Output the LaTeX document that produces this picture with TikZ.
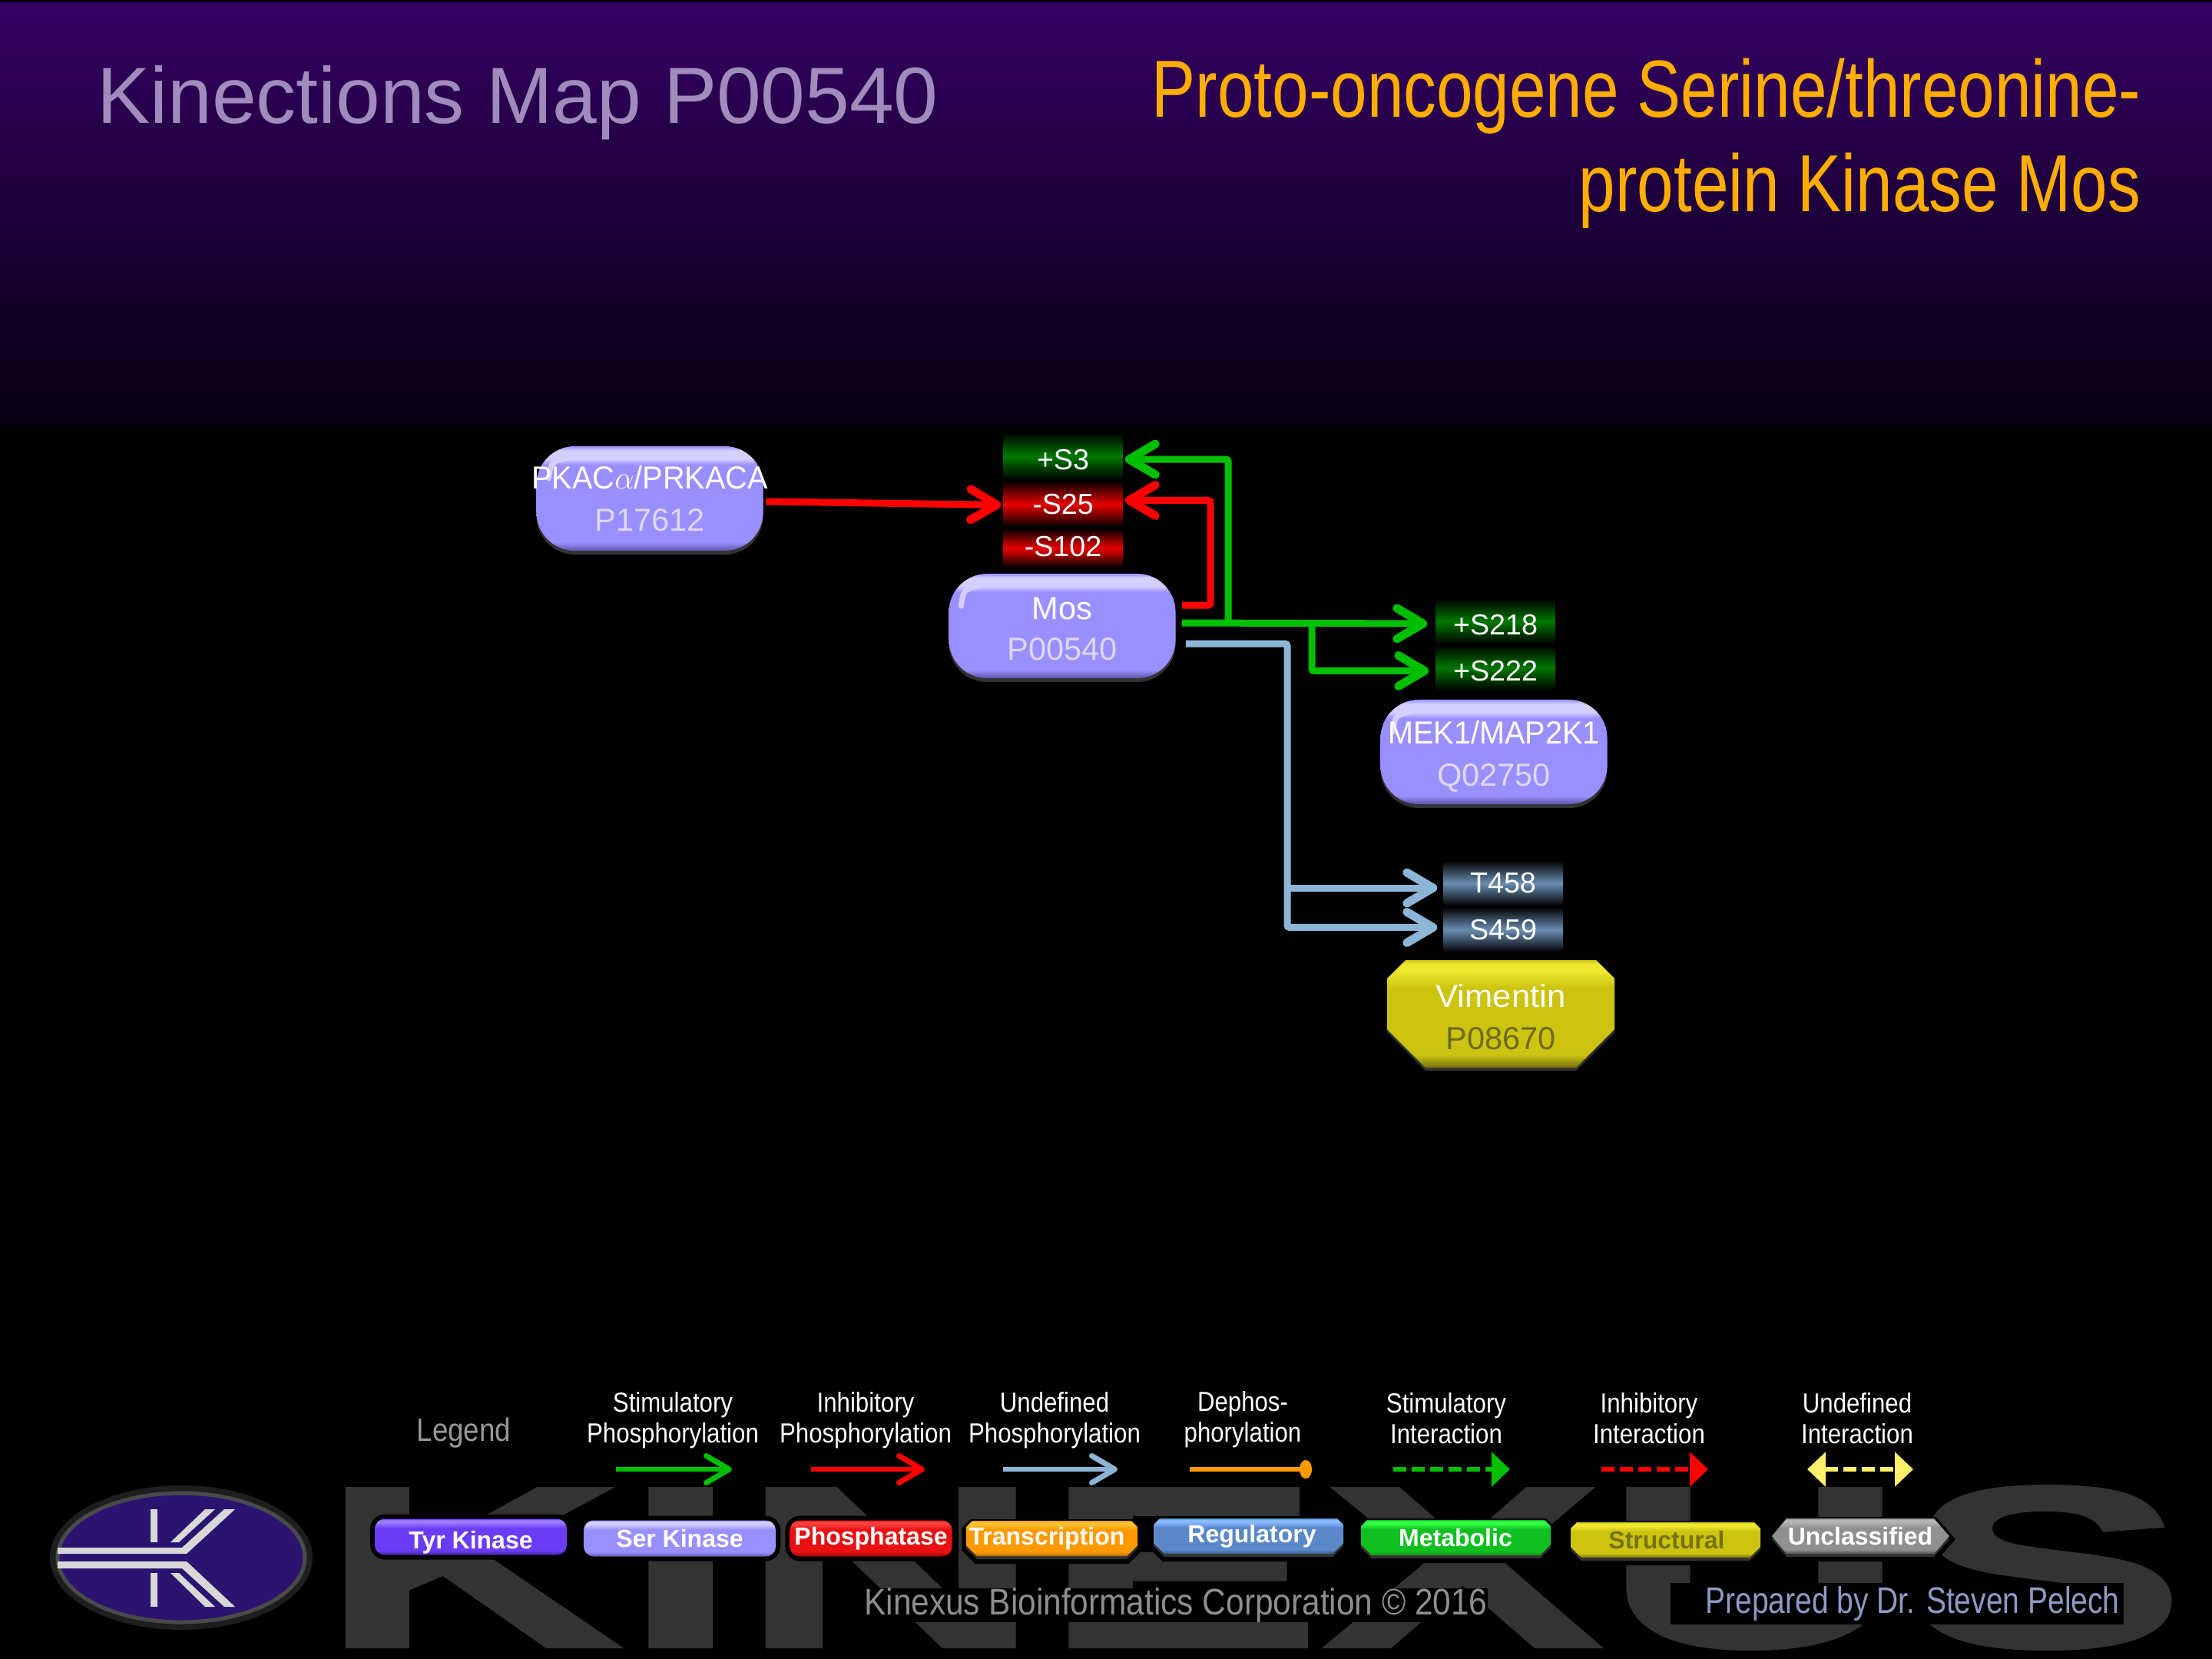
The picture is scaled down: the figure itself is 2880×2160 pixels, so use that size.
\documentclass[tikz,border=0pt]{standalone}
\usepackage{fontspec}
\usepackage{xcolor}
\setmainfont{Liberation Sans}
\newfontfamily\legfont[FakeStretch=0.87]{Liberation Sans}
\newfontfamily\corpfont[FakeStretch=0.88]{Liberation Sans}
\newfontfamily\prepfont[FakeStretch=0.81]{Liberation Sans}
\newfontfamily\titlefont[FakeStretch=0.81]{Liberation Sans}
\newfontfamily\markfont[FakeStretch=1.83,FakeBold=1.5]{Liberation Sans Bold}
\definecolor{kinbg}{HTML}{340062}
\definecolor{kinbot}{HTML}{060012}
\definecolor{kintitle}{HTML}{A08CBC}
\definecolor{kinname}{HTML}{FFAD00}
\definecolor{kinmain}{HTML}{9A8FFF}
\definecolor{kinlight}{HTML}{D4CFFF}
\definecolor{kindark}{HTML}{5E54A8}
\definecolor{kinacc}{HTML}{DDD8EE}
\definecolor{kinshadow}{HTML}{333333}
\definecolor{phgreen}{HTML}{00BF00}
\definecolor{phred}{HTML}{FF0000}
\definecolor{phblue}{HTML}{8DB5D6}
\definecolor{deorange}{HTML}{FF9900}
\definecolor{inyellow}{HTML}{FFF06A}
\definecolor{sitegreen}{HTML}{007800}
\definecolor{sitered}{HTML}{E80000}
\definecolor{siteblue}{HTML}{6A8EB2}
\definecolor{stmain}{HTML}{CCC410}
\definecolor{stlight}{HTML}{EEE830}
\definecolor{stdark}{HTML}{77720C}
\definecolor{sttext}{HTML}{6E6A20}
\definecolor{tyrmain}{HTML}{6A3CF5}
\definecolor{tyrlight}{HTML}{9A7CFF}
\definecolor{tyrdark}{HTML}{3E1FA0}
\definecolor{phomain}{HTML}{E81010}
\definecolor{pholight}{HTML}{FF4040}
\definecolor{phodark}{HTML}{8A0808}
\definecolor{tramain}{HTML}{FF9900}
\definecolor{tralight}{HTML}{FFC030}
\definecolor{tradark}{HTML}{B06A00}
\definecolor{regmain}{HTML}{5A88C8}
\definecolor{reglight}{HTML}{88BBFF}
\definecolor{regdark}{HTML}{3E5E8E}
\definecolor{metmain}{HTML}{10C020}
\definecolor{metlight}{HTML}{33FF44}
\definecolor{metdark}{HTML}{159020}
\definecolor{unkmain}{HTML}{909090}
\definecolor{unklight}{HTML}{B4B4B4}
\definecolor{unkdark}{HTML}{505050}
\definecolor{logobg}{HTML}{2A1470}
\definecolor{logoline}{HTML}{D8D8D8}
\definecolor{logoring}{HTML}{4A4A4A}
\definecolor{logohalo}{HTML}{1E1E1E}
\definecolor{credgrey}{HTML}{8E8E8E}
\definecolor{credblue}{HTML}{8E9AC4}
\usepackage{tikz}
\usetikzlibrary{arrows.meta,positioning,shadows,calc}
\newcommand{\bandshading}[4]{\pgfdeclareverticalshading{#1}{100bp}{color(0bp)=(#4); color(25bp)=(#4); color(31bp)=(#3); color(62bp)=(#3); color(70bp)=(#2); color(73bp)=(#2); color(75bp)=(#3); color(100bp)=(#3)}}
\newcommand{\siteshading}[2]{\pgfdeclareverticalshading{#1}{100bp}{color(0bp)=(black); color(25bp)=(black); color(50bp)=(#2); color(75bp)=(black); color(100bp)=(black)}}
\pgfdeclareverticalshading{kinshade}{100bp}{color(0bp)=(kindark); color(25bp)=(kindark); color(29bp)=(kinmain); color(66bp)=(kinmain); color(69bp)=(kinlight); color(73bp)=(kinlight); color(75bp)=(kinmain); color(100bp)=(kinmain)}
\bandshading{serchip}{kinlight}{kinmain}{kindark}
\bandshading{strshade}{stlight}{stmain}{stdark}
\bandshading{tyrshade}{tyrlight}{tyrmain}{tyrdark}
\bandshading{phoshade}{pholight}{phomain}{phodark}
\bandshading{trashade}{tralight}{tramain}{tradark}
\bandshading{regshade}{reglight}{regmain}{regdark}
\bandshading{metshade}{metlight}{metmain}{metdark}
\bandshading{unkshade}{unklight}{unkmain}{unkdark}
\siteshading{grsite}{sitegreen}
\siteshading{resite}{sitered}
\siteshading{blsite}{siteblue}
\tikzset{
  kinbox/.style={shading=kinshade,rounded corners=5mm,minimum width=29.5mm,minimum height=13.6mm,inner sep=0pt,align=center,text=white,font=\fontsize{11.8}{15.6}\selectfont,general shadow={fill=kinshadow,shadow yshift=-.5mm},
    path picture={
      \draw[sharp corners,kinlight,line width=.7mm,line cap=round] ([xshift=1.6mm,yshift=-4.2mm]path picture bounding box.north west) .. controls ([xshift=1.9mm,yshift=-2mm]path picture bounding box.north west) .. ([xshift=4.6mm,yshift=-1.4mm]path picture bounding box.north west);
    }},
  sitebox/.style={rounded corners=.6mm,minimum width=15.6mm,minimum height=5.9mm,inner sep=0pt,text=white,text height=9.7pt,text depth=0pt,font=\fontsize{10.7}{12}\selectfont},
  sitemid/.style={text height=7.2pt},
  protext/.style={inner sep=0pt,align=center,text=white,font=\fontsize{11.8}{15.6}\selectfont},
  legpill/.style={rounded corners=1.3mm,minimum width=25mm,minimum height=4.7mm,inner sep=0pt,text=white,font=\fontsize{9.1}{11}\bfseries\selectfont,preaction={draw=black,line width=1.2mm}},
  legtext/.style={inner sep=0pt,text=white,font=\fontsize{9.1}{11}\bfseries\selectfont},
  leghead/.style={inner sep=0pt,align=center,text=white,font=\legfont\fontsize{10.2}{11.4}\selectfont},
  phflow/.style={-{Straight Barb[length=3.4mm,width=4mm,line width=1.1mm,round]},line width=.9mm},
  legflow/.style={-{Straight Barb[length=3mm,width=3.5mm,line width=.7mm,round]},line width=.6mm},
  legdash/.style={-{Triangle[length=2.4mm,width=4.4mm]},line width=.6mm,dash pattern=on 1.7mm off .7mm},
  logobar/.style={fill=logoline},
}
\newcommand{\kinlabel}[3][12pt]{\rule{0pt}{#1}#2\\{\color{kinacc}#3}}
% chamfered legend and Vimentin bodies
\newcommand{\bevelbox}[7]{
\path[fill=kinshadow,preaction={draw=black,line width=1.2mm}] ({#1+#5},{#2+4}) -- ({#3-#5},{#2+4}) -- (#3,{#2+#5+4}) -- (#3,{#4-#6+4}) -- ({#3-#6},{#4+4}) -- ({#1+#6},{#4+4}) -- (#1,{#4-#6+4}) -- (#1,{#2+#5+4}) -- cycle;
\path[shading=#7] ({#1+#5},#2) -- ({#3-#5},#2) -- (#3,{#2+#5}) -- (#3,{#4-#6}) -- ({#3-#6},#4) -- ({#1+#6},#4) -- (#1,{#4-#6}) -- (#1,{#2+#5}) -- cycle;
}
\begin{document}
\begin{tikzpicture}[x=.01cm,y=-.01cm,node distance=0mm]
\useasboundingbox (0,0) rectangle (2880,2160);
\fill[black] (0,0) rectangle (2880,2160);
\shade[top color=kinbg,bottom color=kinbot] (0,3) rectangle (2880,552);
 % watermark
\node[inner sep=0pt,text=kinshadow,font=\markfont\fontsize{85}{85}\selectfont] (mark) at (1631,2041) {KINEXUS};
 % titles
\node[inner sep=0pt,text=kintitle,font=\fontsize{29.5}{32}\selectfont] (title) at (674,134) {Kinections Map P00540};
\node[inner sep=0pt,anchor=east,align=right,text=kinname,font=\titlefont\fontsize{30}{35}\selectfont] (name) at (2788,187) {Proto-oncogene Serine/threonine-\\protein Kinase Mos};
 % proteins
\node[kinbox] (pkac) at (846,649) {\kinlabel[8pt]{\makebox[0pt]{\scalebox{.955}[1]{PKAC$\alpha$/PRKACA}}}{P17612}};
\node[kinbox,font=\fontsize{11.8}{15.2}\selectfont] (mos) at (1383,815) {\kinlabel[10.5pt]{Mos}{P00540}};
\node[kinbox] (mek) at (1945,979) {\kinlabel{\scalebox{.955}[1]{MEK1/MAP2K1}}{Q02750}};
\bevelbox{1806}{1250}{2102}{1390}{24}{50}{strshade}
\node[protext] (vim) at (1954,1324) {\scalebox{1.05}[1]{Vimentin}\\{\color{sttext}P08670}};
 % sites
\node[sitebox,shading=grsite,minimum height=6.2mm] (s3) at (1384,594) {+S3};
\node[sitebox,sitemid,shading=resite,below=of s3,minimum height=6mm] (s25) {-S25};
\node[sitebox,text height=6pt,shading=resite,below=of s25,minimum height=5.2mm] (s102) {-S102};
\node[sitebox,shading=grsite] (s218) at (1947,809) {+S218};
\node[sitebox,shading=grsite,below=of s218] (s222) {+S222};
\node[sitebox,sitemid,shading=blsite] (t458) at (1957,1150) {T458};
\node[sitebox,sitemid,shading=blsite,below=of t458] (s459) {S459};
 % connectors
\coordinate (mosred) at (1539,788);
\coordinate (redup) at (1576,788);
\coordinate (mosgreen) at (1539,811);
\coordinate (greenup) at (1599,811);
\coordinate (greenfork) at (1708,811);
\coordinate (mosblue) at (1544,838);
\coordinate (blueturn) at (1676,838);
\coordinate (bluefork) at (1676,1156);
\draw[phflow,phred] ($(pkac.east)+(3,4)$) -- ($(s25.west)+(-2,1)$);
\draw[phflow,phred,rounded corners=.3mm] (mosred) -- (redup) |- ($(s25.east)+(2,-5)$);
\draw[phflow,phgreen] (mosgreen) -- ($(s218.west)+(-10,3)$);
\draw[phflow,phgreen,rounded corners=.3mm] (greenup) |- ($(s3.east)+(2,4)$);
\draw[phflow,phgreen,rounded corners=.3mm] (greenfork) |- ($(s222.west)+(-8,4)$);
\draw[phflow,phblue,rounded corners=.3mm] (mosblue) -- (blueturn) |- ($(s459.west)+(-7,-3)$);
\draw[phflow,phblue] (bluefork) -- ($(t458.west)+(-7,6)$);
 % legend
\node[inner sep=0pt,text=gray!80!white,font=\legfont\fontsize{12}{14}\selectfont] (leg) at (604,1866) {Legend};
\node[leghead] (h1) at (876,1849) {Stimulatory\\Phosphorylation};
\node[leghead] (h2) at (1127,1849) {Inhibitory\\Phosphorylation};
\node[leghead] (h3) at (1373,1849) {Undefined\\Phosphorylation};
\node[leghead] (h4) at (1618,1848) {Dephos-\\phorylation};
\node[leghead] (h5) at (1883,1847) {Stimulatory\\Interaction};
\node[leghead] (h6) at (2147,1847) {Inhibitory\\Interaction};
\node[leghead] (h7) at (2418,1847) {Undefined\\Interaction};
\coordinate (a1) at (802,1913); \coordinate (b1) at (953,1913);
\coordinate (a2) at (1056,1913); \coordinate (b2) at (1204,1913);
\coordinate (a3) at (1306,1913); \coordinate (b3) at (1455,1913);
\coordinate (a4) at (1549,1913); \coordinate (b4) at (1708,1913);
\coordinate (a5) at (1814,1913); \coordinate (b5) at (1966,1913);
\coordinate (a6) at (2085,1913); \coordinate (b6) at (2224,1913);
\coordinate (a7) at (2353,1913); \coordinate (b7) at (2491,1913);
\draw[legflow,phgreen] (a1) -- (b1);
\draw[legflow,phred] (a2) -- (b2);
\draw[legflow,phblue] (a3) -- (b3);
\draw[deorange,line width=.6mm,-{Ellipse[length=1.6mm,width=2.4mm]}] (a4) -- (b4);
\draw[legdash,phgreen] (a5) -- (b5);
\draw[legdash,phred] (a6) -- (b6);
\draw[legdash,inyellow,{Triangle[length=2.4mm,width=4.4mm]}-{Triangle[length=2.4mm,width=4.4mm]}] (a7) -- (b7);
 % legend chips
\node[legpill,shading=tyrshade,text height=9pt,text depth=0pt] (tyr) at (613,2001) {Tyr Kinase};
\node[legpill,shading=serchip] (ser) at (885,2003) {Ser Kinase};
\node[legpill,shading=phoshade,minimum width=21.1mm] (pho) at (1134,2003) {Phosphatase};
\bevelbox{1258}{1980}{1481}{2026}{8}{14}{trashade}
\node[legtext] (tra) at (1363,2003) {Transcription};
\bevelbox{1502}{1977}{1749}{2023}{8}{14}{regshade}
\node[legtext] (reg) at (1630,2000) {Regulatory};
\bevelbox{1772}{1979}{2019}{2025}{8}{14}{metshade}
\node[legtext] (met) at (1895,2002) {Metabolic};
\bevelbox{2045}{1982}{2292}{2028}{8}{14}{strshade}
\node[legtext,text=stdark] (str) at (2170,2005) {Structural};
\path[fill=kinshadow,preaction={draw=black,line width=1.2mm}] (2307,2004) -- (2326,1981) -- (2518,1981) -- (2538,2004) -- (2518,2027) -- (2326,2027) -- cycle;
\path[shading=unkshade] (2307,2000) -- (2326,1977) -- (2518,1977) -- (2538,2000) -- (2518,2023) -- (2326,2023) -- cycle;
\node[legtext] (unk) at (2422,2000) {Unclassified};
 % logo
\draw[logohalo,line width=1.2mm] (236,2028) ellipse [x radius=165,y radius=88];
\fill[logobg,draw=logoring,line width=.5mm] (236,2028) ellipse [x radius=161,y radius=84];
\fill[logobar] (75,2015) -- (237,2015) -- (292,1965) -- (306,1965) -- (243,2023) -- (75,2023) -- cycle;
\fill[logobar] (75,2042) -- (237,2042) -- (292,2092) -- (306,2092) -- (243,2033) -- (75,2033) -- cycle;
\fill[logobar] (222,2008) -- (233,2008) -- (280,1965) -- (267,1965) -- cycle;
\fill[logobar] (222,2048) -- (233,2048) -- (280,2092) -- (267,2092) -- cycle;
\fill[logobar] (196,1965) rectangle (205,2008);
\fill[logobar] (196,2048) rectangle (205,2092);
 % credits
\node[inner sep=0pt,fill=black,text=credgrey,font=\corpfont\fontsize{13.7}{15}\selectfont] (corp) at (1531,2090) {Kinexus Bioinformatics Corporation © 2016};
\node[inner sep=.5mm,fill=black,text=credblue,font=\prepfont\fontsize{13.7}{15}\selectfont,minimum width=58.5mm] (prep) at (2470,2088) {\hspace*{4mm}Prepared by Dr. Steven Pelech};
\end{tikzpicture}
\end{document}
